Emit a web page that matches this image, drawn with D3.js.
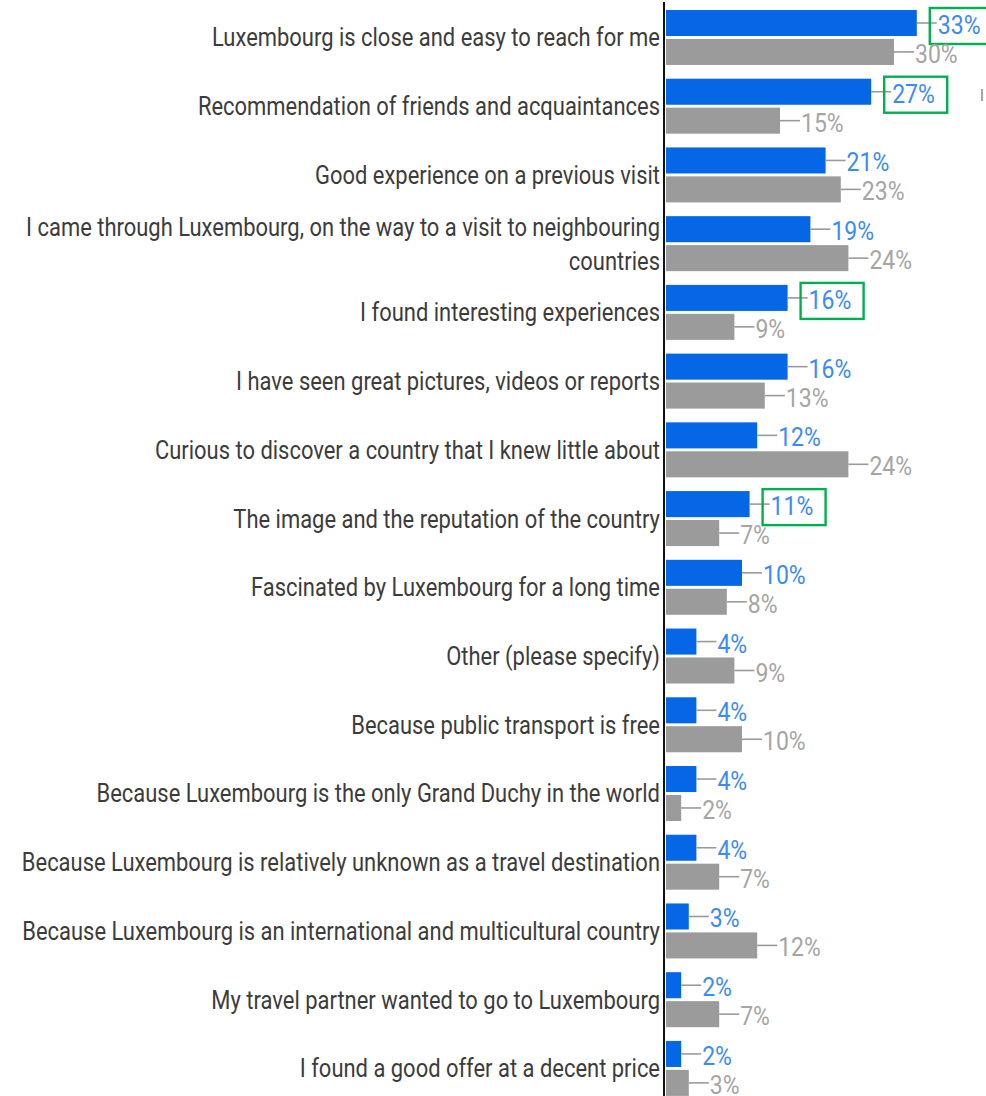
<!DOCTYPE html>
<html>
<head>
<meta charset="utf-8">
<script src="https://cdn.jsdelivr.net/npm/d3@7"></script>
<style>
  html, body { margin: 0; padding: 0; background: #ffffff; }
  svg { display: block; }
  text { font-family: Roboto, "Noto Sans", sans-serif; }
</style>
</head>
<body>
<div id="chart"></div>
<script>
// Reasons for visiting Luxembourg: two survey waves, shares in percent
const categories = [
  "Luxembourg is close and easy to reach for me",
  "Recommendation of friends and acquaintances",
  "Good experience on a previous visit",
  "I came through Luxembourg, on the way to a visit to neighbouring countries",
  "I found interesting experiences",
  "I have seen great pictures, videos or reports",
  "Curious to discover a country that I knew little about",
  "The image and the reputation of the country",
  "Fascinated by Luxembourg for a long time",
  "Other (please specify)",
  "Because public transport is free",
  "Because Luxembourg is the only Grand Duchy in the world",
  "Because Luxembourg is relatively unknown as a travel destination",
  "Because Luxembourg is an international and multicultural country",
  "My travel partner wanted to go to Luxembourg",
  "I found a good offer at a decent price"
];
const seriesBlue = [33, 27, 21, 19, 16, 16, 12, 11, 10, 4, 4, 4, 4, 3, 2, 2];
const seriesGray = [30, 15, 23, 24, 9, 13, 24, 7, 8, 9, 10, 2, 7, 12, 7, 3];
const seriesKeys = ["blue", "gray"];
// Blue values singled out with a frame
const highlighted = [
  "Luxembourg is close and easy to reach for me",
  "Recommendation of friends and acquaintances",
  "I found interesting experiences",
  "The image and the reputation of the country"
];

const W = 986, H = 1096;
const axisX = 664;
const labelSX = 0.878; // horizontal squeeze of the category font
const valueSX = 0.92;  // horizontal squeeze of the value font

const rows = categories.map((c, i) => ({ cat: c, blue: seriesBlue[i], gray: seriesGray[i] }));

const svg = d3.select("#chart").append("svg")
  .attr("width", W).attr("height", H);

const x = d3.scaleLinear().domain([0, 40]).range([666, 666 + 40 * 7.6]);

const y = d3.scaleBand()
  .domain(categories)
  .range([3.1, 3.1 + categories.length * 68.73])
  .paddingInner(0.2)
  .paddingOuter(0.1);

const ySub = d3.scaleBand()
  .domain(seriesKeys)
  .range([0, y.bandwidth()])
  .paddingInner(0.1);

const barColor = { blue: "#0567e6", gray: "#9b9b9b" };
const valueColor = { blue: "#3b8bf2", gray: "#a5a5a5" };

const groups = svg.append("g").selectAll("g.row")
  .data(rows)
  .join("g")
  .attr("class", "row")
  .attr("transform", d => `translate(0,${y(d.cat)})`);

// bars
groups.selectAll("rect.bar")
  .data(d => seriesKeys.map(k => ({ key: k, value: d[k], cat: d.cat })))
  .join("rect")
  .attr("class", "bar")
  .attr("x", x(0))
  .attr("y", d => ySub(d.key))
  .attr("width", d => x(d.value) - x(0))
  .attr("height", ySub.bandwidth())
  .attr("fill", d => barColor[d.key]);

// leader lines and value labels
const leader = 20;
const valueG = groups.selectAll("g.val")
  .data(d => seriesKeys.map(k => ({ key: k, value: d[k], cat: d.cat })))
  .join("g")
  .attr("class", "val");

valueG.append("line")
  .attr("x1", d => x(d.value))
  .attr("x2", d => x(d.value) + leader)
  .attr("y1", d => ySub(d.key) + ySub.bandwidth() / 2)
  .attr("y2", d => ySub(d.key) + ySub.bandwidth() / 2)
  .attr("stroke", "#9a9a9a")
  .attr("stroke-width", 1.6);

valueG.append("text")
  .attr("transform", d => `translate(${x(d.value) + leader + 1},${ySub(d.key) + ySub.bandwidth() / 2 + 11}) scale(${valueSX},1)`)
  .attr("font-size", 25)
  .attr("fill", d => valueColor[d.key])
  .text(d => d.value + "%");

// frames around selected blue values
valueG.filter(d => d.key === "blue" && highlighted.includes(d.cat))
  .append("rect")
  .attr("x", d => x(d.value) + leader - 7)
  .attr("y", d => ySub(d.key) + ySub.bandwidth() / 2 - 15)
  .attr("width", 63)
  .attr("height", 36)
  .attr("fill", "none")
  .attr("stroke", "#00b050")
  .attr("stroke-width", 2.4);

// category labels, wrapped when longer than the space left of the axis
const maxLabelW = 645;
const lineH = 34;
const labelG = groups.append("g")
  .attr("transform", `translate(${axisX - 4},${y.bandwidth() / 2})`);

labelG.each(function (d) {
  const g = d3.select(this);
  const probe = g.append("text").attr("font-size", 25);
  const words = d.cat.split(" ");
  const lines = [];
  let cur = [];
  words.forEach(w => {
    const trial = cur.concat(w).join(" ");
    probe.text(trial);
    if (probe.node().getComputedTextLength() * labelSX > maxLabelW && cur.length) {
      lines.push(cur.join(" "));
      cur = [w];
    } else {
      cur.push(w);
    }
  });
  lines.push(cur.join(" "));
  probe.remove();
  const top = -(lines.length - 1) * lineH / 2;
  lines.forEach((ln, i) => {
    g.append("text")
      .attr("transform", `translate(0,${top + i * lineH + 9}) scale(${labelSX},1)`)
      .attr("text-anchor", "end")
      .attr("font-size", 25)
      .attr("fill", "#3c3c3c")
      .text(ln);
  });
});

// vertical axis line
svg.append("line")
  .attr("x1", axisX).attr("x2", axisX)
  .attr("y1", 2).attr("y2", H)
  .attr("stroke", "#111")
  .attr("stroke-width", 2);

// small stray mark at the right edge
svg.append("line")
  .attr("x1", 982).attr("x2", 982)
  .attr("y1", 89).attr("y2", 101)
  .attr("stroke", "#8a8a8a")
  .attr("stroke-width", 1.5);
</script>
</body>
</html>
